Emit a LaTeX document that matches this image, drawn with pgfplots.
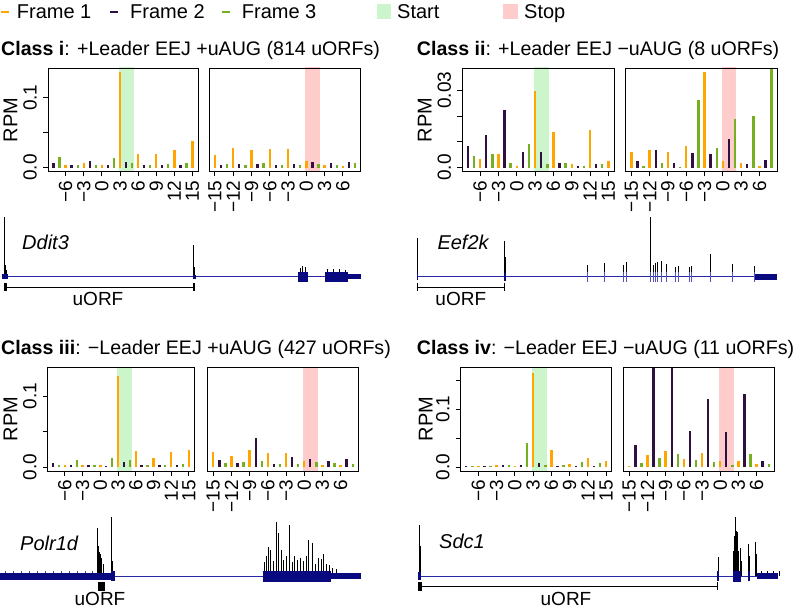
\documentclass[border=0pt]{standalone}
\usepackage{pgfplots}
\pgfplotsset{compat=1.18}
\usepackage{fontspec}
\setmainfont{Liberation Sans}
\definecolor{fone}{HTML}{FFA500}
\definecolor{ftwo}{HTML}{2E1141}
\definecolor{fthree}{HTML}{76B022}
\definecolor{startc}{HTML}{CCF5CC}
\definecolor{stopc}{HTML}{FFCCCC}
\definecolor{gene}{HTML}{0A0A80}
\definecolor{geneline}{HTML}{2828A8}
\newcommand\ft{\fontsize{20}{24}\selectfont}
\newcommand\ttl{\fontsize{19.6}{24}\selectfont}
\newcommand\lab{\fontsize{19}{22}\selectfont}
\pgfplotsset{
 panel/.style={scale only axis, height=103.5pt, axis on top,
   axis line style={line width=0.9pt, black},
   tick align=outside, xtick pos=left, ytick pos=left,
   major tick length=5pt, tick style={line width=0.9pt, black},
   scaled y ticks=false, scaled x ticks=false,
   xticklabel style={rotate=90, anchor=east, inner sep=0pt, font=\lab},
   yticklabel style={rotate=90, anchor=south, inner sep=0pt, font=\lab},
   xticklabel shift=4pt, yticklabel shift=6pt},
 lp/.style={panel, xmin=-8.92, xmax=15.92, xtick={-6,-3,0,3,6,9,12,15}, xticklabels={−6,−3,0,3,6,9,12,15}},
 rp/.style={panel, xmin=-15.92, xmax=8.92, xtick={-15,-12,-9,-6,-3,0,3,6}, xticklabels={−15,−12,−9,−6,−3,0,3,6}, ytick=\empty},
 f1/.style={ycomb, draw=fone, line width=2.4pt},
 f2/.style={ycomb, draw=ftwo, line width=2.4pt},
 f3/.style={ycomb, draw=fthree, line width=2.4pt},
 track/.style={scale only axis, width=800pt, height=105pt, xmin=0, xmax=800, axis lines=none, clip=false},
 spk/.style={ycomb, draw=black, line width=0.6pt},
 gl/.style={draw=geneline, line width=1pt},
}
\begin{document}
\begin{tikzpicture}
\path[use as bounding box] (0,0) rectangle (800pt,-609pt);
% legend
\draw[fone, line width=2.5pt] (1pt,-12pt) -- (9pt,-12pt);
\node[anchor=base west, inner sep=0pt, font=\ft] at (16.7pt,-19pt) {Frame 1};
\draw[ftwo, line width=2.5pt] (110pt,-12pt) -- (118pt,-12pt);
\node[anchor=base west, inner sep=0pt, font=\ft] at (130pt,-19pt) {Frame 2};
\draw[fthree, line width=2.5pt] (221.7pt,-12pt) -- (229.7pt,-12pt);
\node[anchor=base west, inner sep=0pt, font=\ft] at (241.7pt,-19pt) {Frame 3};
\fill[startc] (376.5pt,-4.5pt) rectangle (391pt,-19pt);
\node[anchor=base west, inner sep=0pt, font=\ft] at (397pt,-19pt) {Start};
\fill[stopc] (503pt,-4.5pt) rectangle (517.5pt,-19pt);
\node[anchor=base west, inner sep=0pt, font=\ft] at (524pt,-19pt) {Stop};
% titles
\node[anchor=base west, inner sep=0pt, font=\ttl] at (1pt,-56pt) {\textbf{Class i}: +Leader EEJ +uAUG (814 uORFs)};
\node[anchor=base west, inner sep=0pt, font=\ttl] at (416.7pt,-56pt) {\textbf{Class ii}: +Leader EEJ −uAUG (8 uORFs)};
\node[anchor=base west, inner sep=0pt, font=\ttl] at (1pt,-355pt) {\textbf{Class iii}: −Leader EEJ +uAUG (427 uORFs)};
\node[anchor=base west, inner sep=0pt, font=\ttl] at (416.7pt,-355pt) {\textbf{Class iv}: −Leader EEJ −uAUG (11 uORFs)};
% RPM labels
\node[rotate=90, inner sep=0pt, font=\ft] at (10.5pt,-120pt) {RPM};
\node[rotate=90, inner sep=0pt, font=\ft] at (424.8pt,-120pt) {RPM};
\node[rotate=90, inner sep=0pt, font=\ft] at (10.5pt,-419pt) {RPM};
\node[rotate=90, inner sep=0pt, font=\ft] at (425.8pt,-419pt) {RPM};

% ---------- track row 1 ----------
\begin{axis}[track, at={(0pt,-310pt)}, anchor=south west, ymin=-33.3, ymax=71.7]
\addplot[spk] coordinates {(4.7,59.4) (5.7,12) (6.7,7) (193.7,31.7) (194.5,10) (300,9) (302.5,11) (305,10) (327,8) (333,8) (339,8) (345,7)};
\addplot[spk] coordinates {(417.3,38.4) (504.3,36) (505,20) (587.3,11.7) (604.3,14) (623.3,12) (626.7,14.7) (650.7,59.7) (653.3,12) (655.3,14) (657.3,15) (661.7,16) (666.7,12.7) (675.7,10) (678.7,10.7) (689.3,10) (691.7,10.7) (710,22.4) (732.7,12.4) (754,10.7)};
\addplot[gl] coordinates {(2,0) (360,0)};
\addplot[gene, line width=5pt] coordinates {(1.7,0) (8.3,0)};
\addplot[gene, line width=4pt] coordinates {(192.7,0) (196,0)};
\addplot[gene, line width=10pt] coordinates {(298.3,0) (308.3,0)};
\addplot[gene, line width=10pt] coordinates {(325,0) (348.3,0)};
\addplot[gene, line width=5pt] coordinates {(348.3,0) (360.7,0)};
\addplot[gl] coordinates {(417,0) (755,0)};
\addplot[gene, line width=7pt] coordinates {(416.5,0) (418.3,0)};
\addplot[gene, line width=8pt] coordinates {(503.5,0) (505.5,0)};
\foreach \xx in {587.3,604.3,623.3,626.7,650.7,653.3,655.3,657.3,661.7,666.7,675.7,678.7,689.3,691.7,710,732.7,754}{
  \edef\tmp{\noexpand\addplot[geneline!80, line width=1pt] coordinates {(\xx,-5) (\xx,5)};}\tmp
}
\addplot[gene, line width=6pt] coordinates {(755,0) (777.3,0)};
% uORF brackets
\addplot[black, line width=1pt] coordinates {(5,-10.6) (194,-10.6)};
\addplot[black, line width=3pt] coordinates {(5,-6.6) (5,-14.3)};
\addplot[black, line width=1.3pt] coordinates {(194,-6.6) (194,-14.3)};
\addplot[black, line width=1pt] coordinates {(417.3,-10.6) (504.3,-10.6)};
\addplot[black, line width=1pt] coordinates {(417.3,-6.6) (417.3,-14.3)};
\addplot[black, line width=1.3pt] coordinates {(504.3,-6.6) (504.3,-14.3)};
\node[inner sep=0pt, font=\lab] at (axis cs:98,-22.3) {uORF};
\node[inner sep=0pt, font=\lab] at (axis cs:460.8,-22.3) {uORF};
\node[anchor=west, inner sep=0pt, font=\ft\itshape] at (axis cs:22,34.4) {Ddit3};
\node[anchor=west, inner sep=0pt, font=\ft\itshape] at (axis cs:437.3,34) {Eef2k};
\end{axis}

% ---------- track row 2 ----------
\begin{axis}[track, at={(0pt,-609pt)}, anchor=south west, ymin=-33, ymax=72]
\addplot[ycomb, draw=black!70, line width=0.4pt] coordinates {(5,4.6) (13,4.6) (21,4.6) (29,4.6) (37,4.6) (45,4.6) (53,4.6) (61,4.6) (69,4.6) (77,4.6) (85,4.6) (92,4.6)};
\addplot[spk] coordinates {(97,47.7) (98,30) (99.2,24) (100.4,22) (101.6,18) (102.8,12) (111,59.3) (111.8,15)};
\addplot[spk, line width=0.5pt] coordinates {(264,14) (266,20) (268,29) (270.5,26) (273,15) (276.5,54) (278.6,43) (281,26) (283.5,16) (286,20) (289.3,51) (292,14) (294.5,20) (297,16) (300,18) (303,15) (306,20) (308.7,36) (312.2,32.7) (315,12) (318,18) (321.4,17) (323,22) (326,12) (329,11) (332,8) (336,7)};
\addplot[spk, line width=0.5pt] coordinates {(419,51) (419.8,30) (718,19.3) (733.5,25) (734.5,40) (735.3,59.3) (736.3,45) (737.3,44) (738.5,25) (740,28) (741,15) (748.5,32) (749.3,20) (755,34.3) (755.8,22) (761,4.6) (767,4.6) (773,4.6) (779,4.6)};
\addplot[gl] coordinates {(0,0) (361,0)};
\addplot[gene, line width=7pt] coordinates {(0,0) (111,0)};
\addplot[gene, line width=10pt] coordinates {(111,0) (115,0)};
\addplot[gene, line width=11pt] coordinates {(263,0) (331,0)};
\addplot[gene, line width=6pt] coordinates {(331,0) (361,0)};
\addplot[gl] coordinates {(418,0) (778,0)};
\addplot[gene, line width=8pt] coordinates {(418,0) (421,0)};
\addplot[gene, line width=1.2pt] coordinates {(718,-5) (718,5)};
\addplot[gene, line width=11pt] coordinates {(733,0) (741,0)};
\addplot[gene, line width=1.5pt] coordinates {(749,-5) (749,5)};
\addplot[gene, line width=6pt] coordinates {(757,0) (778,0)};
\addplot[black, line width=9pt] coordinates {(98,-10.2) (104.6,-10.2)};
\addplot[black, line width=1pt] coordinates {(420,-10) (717,-10)};
\addplot[black, line width=9pt] coordinates {(418,-10.2) (422,-10.2)};
\addplot[black, line width=1pt] coordinates {(717,-6) (717,-14)};
\node[inner sep=0pt, font=\lab] at (axis cs:100,-23) {uORF};
\node[inner sep=0pt, font=\lab] at (axis cs:566,-23) {uORF};
\node[anchor=west, inner sep=0pt, font=\ft\itshape] at (axis cs:20,33) {Polr1d};
\node[anchor=west, inner sep=0pt, font=\ft\itshape] at (axis cs:439,34.3) {Sdc1};
\end{axis}

% ---------- Class i ----------
\begin{axis}[lp, at={(48pt,-171.5pt)}, anchor=south west, width=150pt, ymin=-0.0057, ymax=0.1425, ytick={0,0.05,0.1}, yticklabels={0.0,,0.1}]
\addplot[draw=none, fill=startc] coordinates {(2.8,-1) (5.3,-1) (5.3,1) (2.8,1)} -- cycle;
\addplot[f1] coordinates {(-6,0.004) (-3,0.006) (0,0.004) (3,0.137) (6,0.019) (9,0.019) (12,0.025) (15,0.0385)};
\addplot[f2] coordinates {(-8,0.0063) (-5,0.004) (-2,0.009) (1,0.003) (4,0.0085) (7,0.003) (10,0.004) (13,0.004)};
\addplot[f3] coordinates {(-7,0.0144) (-4,0.004) (-1,0.004) (2,0.014) (5,0.006) (8,0.004) (11,0.005) (14,0.006)};
\end{axis}
\begin{axis}[rp, at={(209.3pt,-171.5pt)}, anchor=south west, width=151.4pt, ymin=-0.0057, ymax=0.1425]
\addplot[draw=none, fill=stopc] coordinates {(-0.2,-1) (2.2,-1) (2.2,1) (-0.2,1)} -- cycle;
\addplot[f1] coordinates {(-15,0.018) (-12,0.028) (-9,0.0245) (-6,0.026) (-3,0.027) (0,0.0097) (3,0.003) (6,0.002)};
\addplot[f2] coordinates {(-14,0.004) (-11,0.005) (-8,0.0045) (-5,0.004) (-2,0.005) (1,0.0085) (4,0.006) (7,0.0085)};
\addplot[f3] coordinates {(-13,0.0045) (-10,0.004) (-7,0.006) (-4,0.0035) (-1,0.003) (2,0.005) (5,0.004) (8,0.007)};
\end{axis}

% ---------- Class ii ----------
\begin{axis}[lp, at={(462.3pt,-171.5pt)}, anchor=south west, width=151.7pt, ymin=-0.0015, ymax=0.0386, ytick={0,0.01,0.02,0.03}, yticklabels={0.0,,,0.03}]
\addplot[draw=none, fill=startc] coordinates {(2.8,-1) (5.3,-1) (5.3,1) (2.8,1)} -- cycle;
\addplot[f1] coordinates {(-6,0.0035) (-3,0.0052) (0,0.0008) (3,0.0297) (6,0.0136) (9,0.0012) (12,0.0147) (15,0.0024)};
\addplot[f2] coordinates {(-8,0.0083) (-5,0.0128) (-2,0.0222) (1,0.0061) (4,0.0061) (7,0.0016) (10,0.0008) (13,0.0012)};
\addplot[f3] coordinates {(-7,0.0043) (-4,0.0052) (-1,0.0016) (2,0.0092) (5,0.0012) (8,0.0017) (11,0.0008) (14,0.0012)};
\end{axis}
\begin{axis}[rp, at={(625.7pt,-171.5pt)}, anchor=south west, width=151.6pt, ymin=-0.0015, ymax=0.0386]
\addplot[draw=none, fill=stopc] coordinates {(-0.2,-1) (2.2,-1) (2.2,1) (-0.2,1)} -- cycle;
\addplot[f1] coordinates {(-15,0.0061) (-12,0.0070) (-9,0.0061) (-6,0.0083) (-3,0.0370) (0,0.0025) (3,0.0016) (6,0.0008)};
\addplot[f2] coordinates {(-14,0.0025) (-11,0.0070) (-8,0.0016) (-5,0.0056) (-2,0.0052) (1,0.0110) (4,0.0012) (7,0.0030)};
\addplot[f3] coordinates {(-13,0.0006) (-10,0.0016) (-7,0.0003) (-4,0.0262) (-1,0.0075) (2,0.0187) (5,0.0200) (8,0.0386)};
\end{axis}

% ---------- Class iii ----------
\begin{axis}[lp, at={(47.7pt,-471pt)}, anchor=south west, width=146.6pt, ymin=-0.0056, ymax=0.1406, ytick={0,0.05,0.1}, yticklabels={0.0,,0.1}]
\addplot[draw=none, fill=startc] coordinates {(2.8,-1) (5.3,-1) (5.3,1) (2.8,1)} -- cycle;
\addplot[f1] coordinates {(-6,0.0033) (-3,0.0033) (0,0.0028) (3,0.1288) (6,0.0232) (9,0.0128) (12,0.0208) (15,0.0237)};
\addplot[f2] coordinates {(-8,0.0057) (-5,0.0033) (-2,0.0024) (1,0.0019) (4,0.0076) (7,0.0033) (10,0.0033) (13,0.0033)};
\addplot[f3] coordinates {(-7,0.0033) (-4,0.0104) (-1,0.0028) (2,0.0128) (5,0.0100) (8,0.0033) (11,0.0033) (14,0.0047)};
\end{axis}
\begin{axis}[rp, at={(207.7pt,-471pt)}, anchor=south west, width=150.6pt, ymin=-0.0056, ymax=0.1406]
\addplot[draw=none, fill=stopc] coordinates {(-0.2,-1) (2.2,-1) (2.2,1) (-0.2,1)} -- cycle;
\addplot[f1] coordinates {(-15,0.0208) (-12,0.0156) (-9,0.0247) (-6,0.0204) (-3,0.0204) (0,0.0081) (3,0.0033) (6,0.0028)};
\addplot[f2] coordinates {(-14,0.0095) (-11,0.0057) (-8,0.0408) (-5,0.0047) (-2,0.0147) (1,0.0109) (4,0.0090) (7,0.0118)};
\addplot[f3] coordinates {(-13,0.0057) (-10,0.0071) (-7,0.0090) (-4,0.0043) (-1,0.0038) (2,0.0066) (5,0.0057) (8,0.0038)};
\end{axis}

% ---------- Class iv ----------
\begin{axis}[lp, at={(460.7pt,-471pt)}, anchor=south west, width=151pt, ymin=-0.0066, ymax=0.172, ytick={0,0.05,0.1,0.15}, yticklabels={0.0,,0.1,}]
\addplot[draw=none, fill=startc] coordinates {(2.8,-1) (5.3,-1) (5.3,1) (2.8,1)} -- cycle;
\addplot[f1] coordinates {(-6,0.0012) (-3,0.0041) (0,0.0017) (3,0.162) (6,0.029) (9,0.0058) (12,0.0162) (15,0.0098)};
\addplot[f2] coordinates {(-8,0.0012) (-5,0.0023) (-2,0.0035) (1,0.0046) (4,0.0069) (7,0.0023) (10,0.0023) (13,0.0023)};
\addplot[f3] coordinates {(-7,0.0012) (-4,0.0023) (-1,0.0035) (2,0.0417) (5,0.0046) (8,0.0035) (11,0.0081) (14,0.0075)};
\end{axis}
\begin{axis}[rp, at={(623.7pt,-471pt)}, anchor=south west, width=150.6pt, ymin=-0.0066, ymax=0.172]
\addplot[draw=none, fill=stopc] coordinates {(-0.2,-1) (2.2,-1) (2.2,1) (-0.2,1)} -- cycle;
\addplot[f1] coordinates {(-15,0.0023) (-12,0.0208) (-9,0.0278) (-6,0.0139) (-3,0.0249) (0,0.0098) (3,0.0104) (6,0.0058)};
\addplot[f2] coordinates {(-14,0.0382) (-11,0.25) (-8,0.25) (-5,0.0625) (-2,0.1175) (1,0.0608) (4,0.1262) (7,0.0110)};
\addplot[f3] coordinates {(-13,0.0069) (-10,0.0156) (-7,0.0220) (-4,0.0116) (-1,0.0093) (2,0.0046) (5,0.0220) (8,0.0058)};
\end{axis}
\end{tikzpicture}
\end{document}
